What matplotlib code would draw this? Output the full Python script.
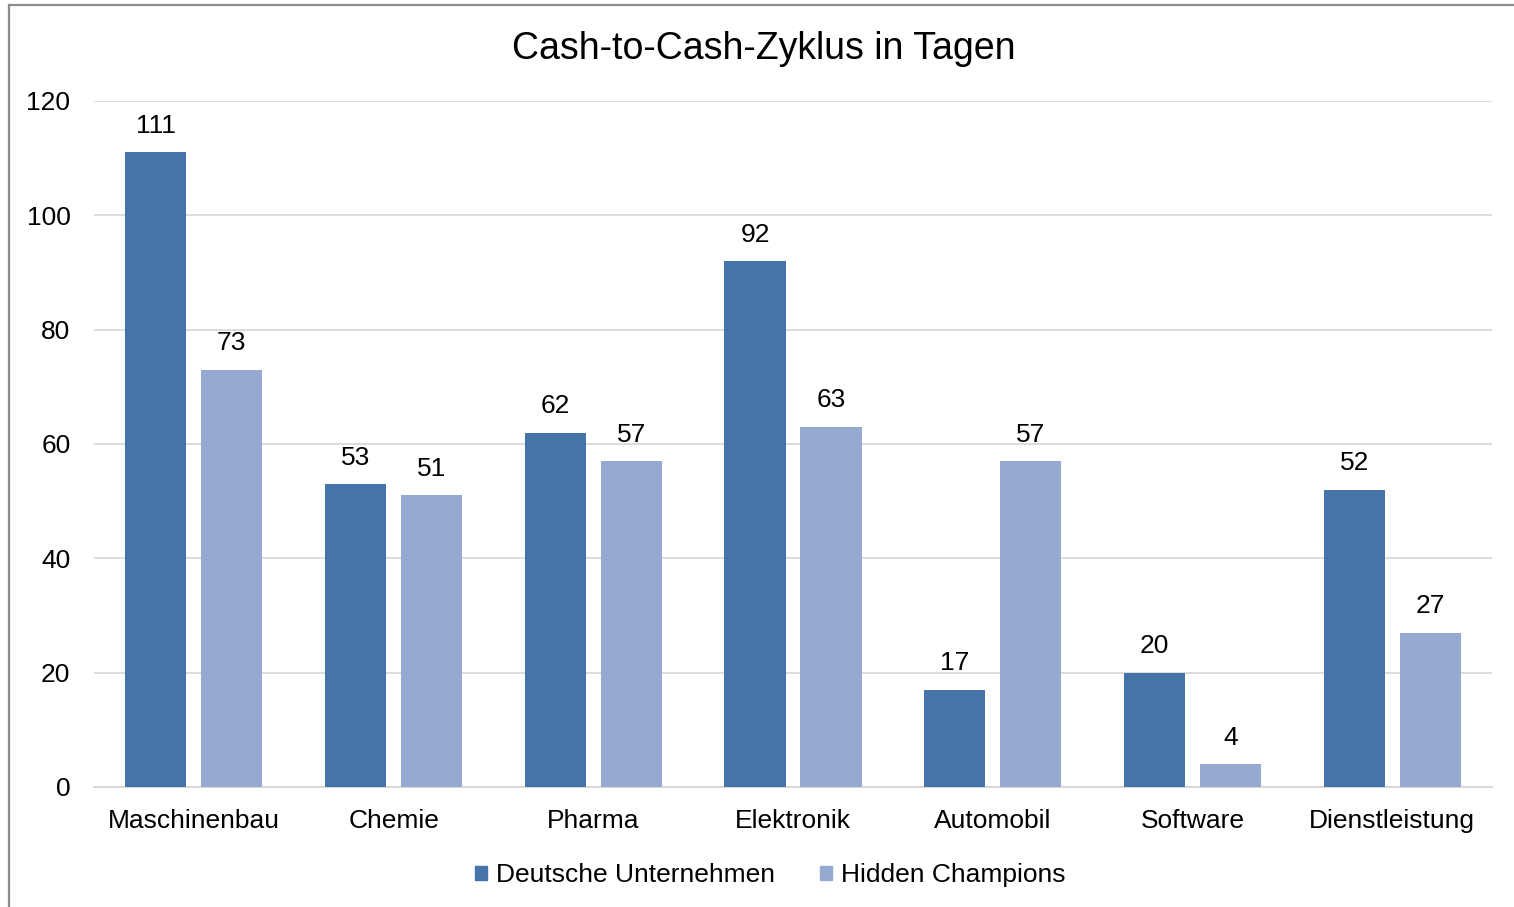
import matplotlib.pyplot as plt
from matplotlib.lines import Line2D
from matplotlib.patches import Patch
import numpy as np

plt.rcParams['font.family'] = ['Liberation Sans', 'DejaVu Sans']

# cash-to-cash cycle per sector, in days
branchen = ["Maschinenbau", "Chemie", "Pharma", "Elektronik",
            "Automobil", "Software", "Dienstleistung"]
deutsche = [111, 53, 62, 92, 17, 20, 52]
hidden = [73, 51, 57, 63, 57, 4, 27]
serien = ["Deutsche Unternehmen", "Hidden Champions"]

farbe_dunkel = "#4673A8"
farbe_hell = "#96AAD1"

W, H = 1514, 907
fig = plt.figure(figsize=(W / 100, H / 100), dpi=100)
ax = fig.add_axes([94 / W, 1 - 787 / H, (1492 - 94) / W, (787 - 101) / H])

x = np.arange(len(branchen))
breite = 0.306
versatz = 0.19

b1 = ax.bar(x - versatz, deutsche, breite, color=farbe_dunkel, zorder=3)
b2 = ax.bar(x + versatz, hidden, breite, color=farbe_hell, zorder=3)

for bars, werte in ((b1, deutsche), (b2, hidden)):
    for bar, v in zip(bars, werte):
        ax.annotate(str(v), (bar.get_x() + bar.get_width() / 2, v),
                    xytext=(0, 19), textcoords="offset points",
                    ha="center", va="center", fontsize=19)

ax.set_xlim(-0.5, len(branchen) - 0.5)
ax.set_ylim(0, 120)
ax.set_yticks(range(0, 121, 20))
ax.set_xticks(x)
ax.set_xticklabels(branchen)
ax.tick_params(axis="both", length=0, labelsize=19)
ax.tick_params(axis="x", pad=16)
ax.tick_params(axis="y", pad=17)
ax.grid(axis="y", color="#D9D9D9", linewidth=1.3, zorder=0)
for s in ("top", "right", "left"):
    ax.spines[s].set_visible(False)
ax.spines["bottom"].set_color("#D9D9D9")
ax.spines["bottom"].set_linewidth(1.5)

fig.text(764 / W, 1 - 49 / H, "Cash-to-Cash-Zyklus in Tagen",
         ha="center", va="center", fontsize=27)

handles = [Patch(color=farbe_dunkel), Patch(color=farbe_hell)]
fig.legend(handles, serien, loc="center", bbox_to_anchor=(770 / W, 1 - 875 / H),
           ncol=2, frameon=False, fontsize=19, handlelength=0.45,
           handleheight=0.45, handletextpad=0.35, columnspacing=1.7)

# outer frame, cut off at the right and bottom
fig.add_artist(Line2D([9 / W, 9 / W], [0, 1 - 5 / H], color="#8C8C8C",
                      linewidth=1.6, transform=fig.transFigure))
fig.add_artist(Line2D([9 / W, 1], [1 - 5 / H, 1 - 5 / H], color="#8C8C8C",
                      linewidth=1.6, transform=fig.transFigure))

fig.savefig("out.png", dpi=100, facecolor="white")
